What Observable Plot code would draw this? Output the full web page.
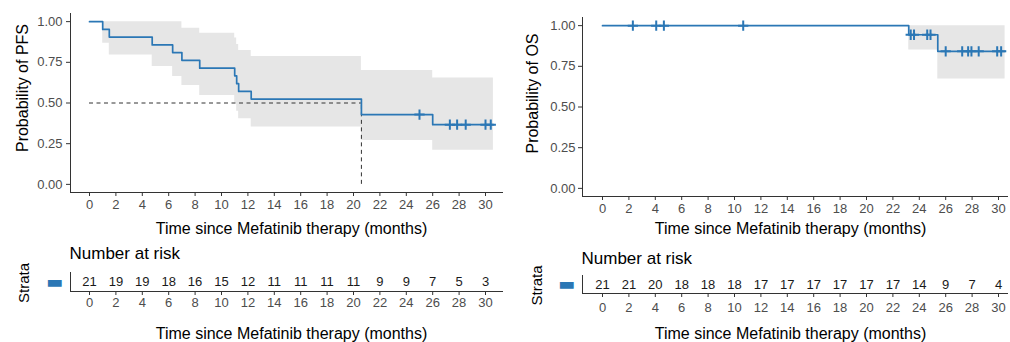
<!DOCTYPE html>
<html><head><meta charset="utf-8">
<script src="https://cdn.jsdelivr.net/npm/d3@7"></script>
<script src="https://cdn.jsdelivr.net/npm/@observablehq/plot@0.6"></script>
<style>
body{margin:0;background:#fff;}
#root{position:relative;width:1010px;height:342px;overflow:hidden;font-family:"Liberation Sans",Arial,sans-serif;background:#fff;}
.panel{position:absolute;}
.panel svg{overflow:visible;}
</style></head><body><div id="root"></div>
<script>
// ---------- data ----------
const timeTicks = [0, 2, 4, 6, 8, 10, 12, 14, 16, 18, 20, 22, 24, 26, 28, 30];
const probTicks = [0, 0.25, 0.5, 0.75, 1];
const xTitle = "Time since Mefatinib therapy (months)";

// PFS (left)
const pfsTime  = [0, 1.0, 1.5, 4.75, 6.3, 7.0, 8.35, 11.0, 11.15, 11.3, 12.25, 20.6, 26.0, 30.6];
const pfsSurv  = [1, 0.952, 0.905, 0.857, 0.810, 0.762, 0.714, 0.667, 0.619, 0.571, 0.524, 0.429, 0.367, 0.367];
const pfsUpper = [1, 1, 1, 1, 1, 0.96, 0.928, 0.90, 0.86, 0.822, 0.785, 0.70, 0.654, 0.654];
const pfsLower = [1, 0.867, 0.795, 0.724, 0.663, 0.607, 0.546, 0.50, 0.45, 0.403, 0.352, 0.27, 0.209, 0.209];
const pfsCensorTime = [25.0, 27.3, 27.85, 28.5, 30.0, 30.4];
const pfsCensorSurv = [0.429, 0.367, 0.367, 0.367, 0.367, 0.367];
const pfsMedian = 20.6;
const pfsRisk = [21, 19, 19, 18, 16, 15, 12, 11, 11, 11, 11, 9, 9, 7, 5, 3];

// OS (right)
const osTime  = [0, 23.2, 25.4, 30.5];
const osSurv  = [1, 0.944, 0.842, 0.842];
const osUpper = [1, 1, 1, 1];
const osLower = [1, 0.85, 0.672, 0.672];
const osCensorTime = [2.3, 4.07, 4.65, 10.66, 23.35, 23.6, 24.6, 24.85, 26.0, 27.25, 27.7, 27.95, 28.5, 29.9, 30.2];
const osCensorSurv = [1, 1, 1, 1, 0.944, 0.944, 0.944, 0.944, 0.842, 0.842, 0.842, 0.842, 0.842, 0.842, 0.842];
const osRisk = [21, 21, 20, 18, 18, 18, 17, 17, 17, 17, 17, 17, 14, 9, 7, 4];

// ---------- style ----------
const BLUE = "#2b77b5";
const BAND = "#e6e6e6";
const AXIS = "#333333";
const TICKTXT = "#4d4d4d";
const FONT = "Liberation Sans, Arial, sans-serif";

function place(svg, left, top) {
  const div = document.createElement("div");
  div.className = "panel";
  div.style.left = left + "px";
  div.style.top = top + "px";
  div.appendChild(svg);
  document.getElementById("root").appendChild(div);
}

function kmPlot(o) {
  const rows = o.time.map((t, i) => ({t, s: o.surv[i], u: o.upper[i], l: o.lower[i]}));
  const cens = o.ctime.map((t, i) => ({t, s: o.csurv[i]}));
  const yDomain = [-0.05, 1.05];
  const marks = [
    Plot.areaY(rows, {x: "t", y1: "l", y2: "u", curve: "step-after", fill: BAND}),
  ];
  if (o.median != null) {
    marks.push(
      Plot.ruleY([0.5], {x1: 0, x2: o.median, stroke: AXIS, strokeDasharray: "4,3.5", strokeWidth: 1}),
      Plot.ruleX([o.median], {y1: 0, y2: 0.5, stroke: AXIS, strokeDasharray: "4,3.5", strokeWidth: 1})
    );
  }
  marks.push(
    Plot.line(rows, {x: "t", y: "s", curve: "step-after", stroke: BLUE, strokeWidth: 1.7}),
    Plot.dot(cens, {x: "t", y: "s", symbol: "plus", r: 3.4, stroke: BLUE, strokeWidth: 2}),
    Plot.ruleX([o.xDomain[0]], {stroke: AXIS, strokeWidth: 1}),
    Plot.ruleY([yDomain[0]], {stroke: AXIS, strokeWidth: 1}),
    Plot.axisX(timeTicks, {tickSize: 4, tickPadding: o.xTickPad, fontSize: 13, stroke: AXIS, fill: TICKTXT, label: null}),
    Plot.axisY(probTicks, {tickSize: 4, tickPadding: o.yTickPad, fontSize: 13, stroke: AXIS, fill: TICKTXT, label: null, tickFormat: d3.format(".2f")}),
    Plot.text([o.ylabel], {frameAnchor: "left", textAnchor: "middle", lineAnchor: "middle", rotate: -90, dx: o.yTitleDx, dy: o.yTitleDy, fontSize: 16, fill: "#000"}),
    Plot.text([xTitle], {frameAnchor: "bottom", textAnchor: "middle", lineAnchor: "middle", dx: o.xTitleDx, dy: o.xTitleDy, fontSize: 16, fill: "#000"})
  );
  return Plot.plot({
    width: o.W, height: o.H,
    marginLeft: o.ml, marginRight: o.mr, marginTop: o.mt, marginBottom: o.mb,
    style: {fontFamily: FONT, background: "transparent", overflow: "visible"},
    x: {domain: o.xDomain, axis: null},
    y: {domain: yDomain, axis: null},
    marks
  });
}

function riskTable(o) {
  const rows = timeTicks.map((t, i) => ({t, n: o.risk[i]}));
  return Plot.plot({
    width: o.W, height: o.H,
    marginLeft: o.ml, marginRight: o.mr, marginTop: o.mt, marginBottom: o.mb,
    style: {fontFamily: FONT, background: "transparent", overflow: "visible"},
    x: {domain: o.xDomain, axis: null},
    y: {domain: [0, 1], axis: null},
    marks: [
      Plot.text(rows, {x: "t", y: () => 0.5, text: "n", fontSize: 13, fill: "#1a1a1a"}),
      Plot.ruleX([o.xDomain[0]], {stroke: AXIS, strokeWidth: 1}),
      Plot.ruleY([0], {stroke: AXIS, strokeWidth: 1}),
      Plot.axisX(timeTicks, {tickSize: 4, tickPadding: o.xTickPad, fontSize: 13, stroke: AXIS, fill: TICKTXT, label: null}),
      Plot.text(["Number at risk"], {frameAnchor: "top-left", textAnchor: "start", lineAnchor: "middle", dx: -1, dy: o.nrDy, fontSize: 17, fill: "#000"}),
      Plot.text(["Strata"], {frameAnchor: "left", textAnchor: "middle", lineAnchor: "middle", rotate: -90, dx: o.strataDx, dy: 1, fontSize: 15, fill: "#000"}),
      Plot.text(["\u25AC"], {frameAnchor: "left", textAnchor: "middle", lineAnchor: "middle", dx: o.dashDx, dy: 0, fontSize: 18, fontFamily: "DejaVu Sans", fill: BLUE}),
      Plot.text([xTitle], {frameAnchor: "bottom", textAnchor: "middle", lineAnchor: "middle", dx: o.xTitleDx, dy: o.xTitleDy, fontSize: 16, fill: "#000"})
    ]
  });
}

const leftX = [-19 / 13.2, (503 - 89) / 13.2];
const rightX = [-20 / 13.2, (1008 - 602) / 13.2];

place(kmPlot({
  time: pfsTime, surv: pfsSurv, upper: pfsUpper, lower: pfsLower,
  ctime: pfsCensorTime, csurv: pfsCensorSurv, median: pfsMedian,
  ylabel: "Probability of PFS",
  W: 505, H: 240, ml: 70, mr: 2, mt: 13, mb: 48, xDomain: leftX,
  xTickPad: 3, yTickPad: 4,
  yTitleDx: -48, yTitleDy: -15, xTitleDx: 4.5, xTitleDy: 36
}), 0, 0);

place(kmPlot({
  time: osTime, surv: osSurv, upper: osUpper, lower: osLower,
  ctime: osCensorTime, csurv: osCensorSurv, median: null,
  ylabel: "Probability of OS",
  W: 505, H: 240, ml: 77, mr: 2, mt: 17, mb: 44, xDomain: rightX,
  xTickPad: 3.5, yTickPad: 3,
  yTitleDx: -50, yTitleDy: -13.5, xTitleDx: -5, xTitleDy: 32
}), 505, 0);

place(riskTable({
  risk: pfsRisk, W: 505, H: 102, ml: 70, mr: 2, mt: 32, mb: 51, xDomain: leftX,
  xTickPad: 2.5, nrDy: -19, strataDx: -46, dashDx: -16, xTitleDx: 4.5, xTitleDy: 42
}), 0, 240);

place(riskTable({
  risk: osRisk, W: 505, H: 102, ml: 77, mr: 2, mt: 35, mb: 49, xDomain: rightX,
  xTickPad: 5, nrDy: -17, strataDx: -45, dashDx: -16, xTitleDx: -5, xTitleDy: 40
}), 505, 240);
</script>
</body></html>
